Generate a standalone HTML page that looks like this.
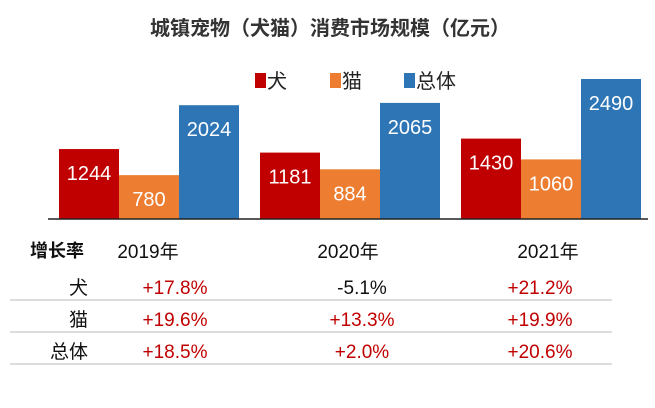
<!DOCTYPE html>
<html><head><meta charset="utf-8"><style>
body{margin:0;background:#fff;width:655px;height:403px;overflow:hidden;font-family:"Liberation Sans","Noto Sans CJK SC",sans-serif}
</style></head><body>
<svg id="c" width="655" height="403" style="font-family:'Liberation Sans','Noto Sans CJK SC',sans-serif">
<text x="330" y="35" text-anchor="middle" font-size="20" fill="#333" font-weight="bold">城镇宠物（犬猫）消费市场规模（亿元）</text>
<g>
<rect x="255" y="73" width="11" height="15" fill="#c00000"/>
<text x="267" y="88" font-size="20" fill="#222">犬</text>
<rect x="330" y="73" width="11" height="15" fill="#ed7d31"/>
<text x="342" y="88" font-size="20" fill="#222">猫</text>
<rect x="404" y="73" width="11" height="15" fill="#2e75b6"/>
<text x="416" y="88" font-size="20" fill="#222">总体</text>
</g>
<g id="bars"></g>
<line x1="48" y1="219" x2="648" y2="219" stroke="#222" stroke-width="1.5"/>
<g id="table"></g>
</svg>
<script>
const years=["2019年","2020年","2021年"];
const dog=[1244,1181,1430];
const cat=[780,884,1060];
const total=[2024,2065,2490];
const rowLabels=["犬","猫","总体"];
const dogGrowth=["+17.8%","-5.1%","+21.2%"];
const catGrowth=["+19.6%","+13.3%","+19.9%"];
const totalGrowth=["+18.5%","+2.0%","+20.6%"];

const NS="http://www.w3.org/2000/svg";
const base=219, scale=140/2490;
const y=v=>base-v*scale;
const groupX=i=>59+i*201;
const series=[[dog,"#c00000","dog"],[cat,"#ed7d31","cat"],[total,"#2e75b6","total"]];
const bars=document.getElementById("bars");
function mk(tag,attrs,parent){const e=document.createElementNS(NS,tag);for(const k in attrs)e.setAttribute(k,attrs[k]);parent.appendChild(e);return e;}
years.forEach((yr,i)=>{
  series.forEach(([arr,col,nm],s)=>{
    const x=groupX(i)+s*60, v=arr[i];
    const r=mk("rect",{x:x,y:y(v),width:60,height:base-y(v),fill:col},bars);
    
    
    const t=mk("text",{x:x+30,y:y(v)+31,"text-anchor":"middle","font-size":"20",fill:"#fff"},bars);
    t.textContent=v;
    
    
  });
});
const tb=document.getElementById("table");
const h=mk("text",{x:30,y:257,"font-size":"18","font-weight":"bold",fill:"#111"},tb);
h.textContent="增长率";


const colX=[148,348,548], valX=[175,362,540];
years.forEach((yr,i)=>{
  const t=mk("text",{x:colX[i],y:258,"text-anchor":"middle","font-size":"19",fill:"#111"},tb);
  t.textContent=yr;
  
  
});
[dogGrowth,catGrowth,totalGrowth].forEach((row,r)=>{
  const ry=294+r*32;
  const l=mk("text",{x:88,y:ry,"text-anchor":"end","font-size":"19",fill:"#111"},tb);
  l.textContent=rowLabels[r];
  
  
  row.forEach((v,i)=>{
    const t=mk("text",{x:valX[i],y:ry,"text-anchor":"middle","font-size":"19",fill:v[0]==="-"?"#111":"#c00000"},tb);
    t.textContent=v;
    
    
  });
  const ln=mk("line",{x1:10,x2:612,y1:300+r*32,y2:300+r*32,stroke:"#bbb","stroke-width":"1"},tb);
  
  
});
</script>
</body></html>
